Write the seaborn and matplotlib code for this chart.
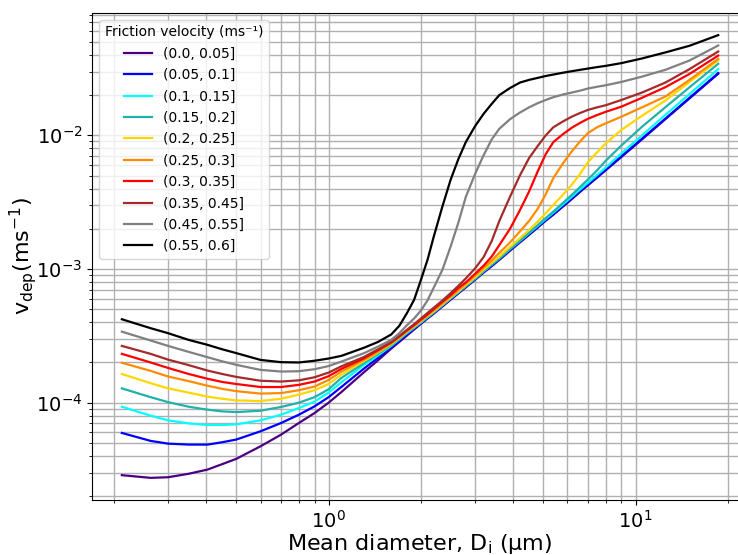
import numpy as np
import pandas as pd
import seaborn as sns
import matplotlib
matplotlib.use("Agg")
import matplotlib.pyplot as plt

# Mean particle diameter (µm)
diameter = [0.212, 0.263, 0.30, 0.35, 0.403, 0.45, 0.50, 0.60, 0.70, 0.80, 0.90, 1.0, 1.1,
            1.3, 1.45, 1.6, 1.7, 1.8, 1.9, 2.0, 2.1, 2.2, 2.35,
            2.5, 2.65, 2.8, 3.0, 3.2, 3.4, 3.6, 3.9, 4.2, 4.5,
            4.8, 5.1, 5.4, 5.8, 6.2, 6.6, 7.0, 7.5, 8.0,
            9.0, 10.5, 12.5, 15.0, 18.6]

# Deposition velocity (m/s) for each friction-velocity bin
vdep_000_005 = [2.87e-5, 2.74e-5, 2.77e-5, 2.94e-5, 3.16e-5, 3.47e-5, 3.80e-5, 4.72e-5, 5.77e-5,
                7.05e-5, 8.37e-5, 1.00e-4, 1.20e-4,
                1.68e-4, 2.08e-4, 2.54e-4, 2.85e-4, 3.18e-4, 3.53e-4, 3.89e-4, 4.26e-4, 4.63e-4, 5.25e-4,
                5.90e-4, 6.58e-4, 7.29e-4, 8.30e-4, 9.40e-4, 1.05e-3, 1.17e-3, 1.37e-3, 1.58e-3, 1.80e-3,
                2.04e-3, 2.30e-3, 2.55e-3, 2.93e-3, 3.33e-3, 3.78e-3, 4.23e-3, 4.83e-3, 5.48e-3,
                6.90e-3, 9.33e-3, 1.32e-2, 1.89e-2, 2.89e-2]
vdep_005_010 = [5.94e-5, 5.18e-5, 4.94e-5, 4.86e-5, 4.86e-5, 5.06e-5, 5.30e-5, 6.11e-5, 7.05e-5,
                8.13e-5, 9.39e-5, 1.10e-4, 1.31e-4,
                1.79e-4, 2.17e-4, 2.61e-4, 2.91e-4, 3.24e-4, 3.58e-4, 3.94e-4, 4.31e-4, 4.69e-4, 5.31e-4,
                5.97e-4, 6.65e-4, 7.38e-4, 8.39e-4, 9.51e-4, 1.06e-3, 1.19e-3, 1.39e-3, 1.60e-3, 1.82e-3,
                2.06e-3, 2.32e-3, 2.58e-3, 2.96e-3, 3.37e-3, 3.82e-3, 4.28e-3, 4.89e-3, 5.55e-3,
                6.98e-3, 9.44e-3, 1.33e-2, 1.91e-2, 2.92e-2]
vdep_010_015 = [9.33e-5, 8.00e-5, 7.38e-5, 7.00e-5, 6.81e-5, 6.81e-5, 6.89e-5, 7.38e-5, 8.13e-5,
                9.12e-5, 1.02e-4, 1.19e-4, 1.42e-4,
                1.91e-4, 2.26e-4, 2.66e-4, 2.98e-4, 3.31e-4, 3.64e-4, 3.98e-4, 4.35e-4, 4.73e-4, 5.36e-4,
                6.03e-4, 6.71e-4, 7.45e-4, 8.47e-4, 9.59e-4, 1.08e-3, 1.20e-3, 1.41e-3, 1.62e-3, 1.85e-3,
                2.10e-3, 2.37e-3, 2.64e-3, 3.04e-3, 3.47e-3, 3.94e-3, 4.42e-3, 5.06e-3, 5.75e-3,
                7.33e-3, 1.00e-2, 1.42e-2, 2.04e-2, 3.13e-2]
vdep_015_020 = [1.28e-4, 1.10e-4, 1.01e-4, 9.33e-5, 8.87e-5, 8.61e-5, 8.51e-5, 8.71e-5, 9.29e-5,
                1.00e-4, 1.10e-4, 1.26e-4, 1.53e-4,
                1.97e-4, 2.32e-4, 2.70e-4, 3.01e-4, 3.35e-4, 3.68e-4, 4.03e-4, 4.39e-4, 4.76e-4, 5.40e-4,
                6.07e-4, 6.76e-4, 7.50e-4, 8.53e-4, 9.66e-4, 1.08e-3, 1.21e-3, 1.42e-3, 1.63e-3, 1.87e-3,
                2.13e-3, 2.41e-3, 2.69e-3, 3.12e-3, 3.59e-3, 4.11e-3, 4.68e-3, 5.48e-3, 6.46e-3,
                8.41e-3, 1.16e-2, 1.62e-2, 2.29e-2, 3.43e-2]
vdep_020_025 = [1.64e-4, 1.40e-4, 1.28e-4, 1.19e-4, 1.11e-4, 1.07e-4, 1.04e-4, 1.03e-4, 1.07e-4,
                1.15e-4, 1.24e-4, 1.38e-4, 1.62e-4,
                2.04e-4, 2.37e-4, 2.74e-4, 3.05e-4, 3.39e-4, 3.72e-4, 4.07e-4, 4.44e-4, 4.81e-4, 5.45e-4,
                6.14e-4, 6.84e-4, 7.59e-4, 8.67e-4, 9.89e-4, 1.11e-3, 1.24e-3, 1.46e-3, 1.70e-3, 1.96e-3,
                2.26e-3, 2.62e-3, 3.02e-3, 3.59e-3, 4.27e-3, 5.15e-3, 6.31e-3, 7.48e-3, 8.71e-3,
                1.10e-2, 1.40e-2, 1.82e-2, 2.51e-2, 3.63e-2]
vdep_025_030 = [1.99e-4, 1.73e-4, 1.57e-4, 1.45e-4, 1.34e-4, 1.27e-4, 1.22e-4, 1.17e-4, 1.18e-4,
                1.24e-4, 1.32e-4, 1.48e-4, 1.71e-4,
                2.09e-4, 2.41e-4, 2.78e-4, 3.10e-4, 3.43e-4, 3.77e-4, 4.12e-4, 4.51e-4, 4.90e-4, 5.55e-4,
                6.24e-4, 6.97e-4, 7.76e-4, 8.93e-4, 1.02e-3, 1.16e-3, 1.32e-3, 1.58e-3, 1.91e-3, 2.29e-3,
                2.82e-3, 3.63e-3, 4.79e-3, 6.17e-3, 7.59e-3, 9.02e-3, 1.04e-2, 1.15e-2, 1.23e-2,
                1.38e-2, 1.62e-2, 1.95e-2, 2.60e-2, 3.73e-2]
vdep_030_035 = [2.32e-4, 2.00e-4, 1.82e-4, 1.64e-4, 1.51e-4, 1.43e-4, 1.38e-4, 1.31e-4, 1.31e-4,
                1.36e-4, 1.44e-4, 1.58e-4, 1.79e-4,
                2.14e-4, 2.47e-4, 2.82e-4, 3.13e-4, 3.47e-4, 3.81e-4, 4.19e-4, 4.57e-4, 5.01e-4, 5.69e-4,
                6.38e-4, 7.23e-4, 7.94e-4, 9.20e-4, 1.06e-3, 1.24e-3, 1.51e-3, 2.00e-3, 2.75e-3, 3.80e-3,
                5.37e-3, 7.24e-3, 8.91e-3, 1.02e-2, 1.14e-2, 1.24e-2, 1.33e-2, 1.42e-2, 1.50e-2,
                1.64e-2, 1.91e-2, 2.29e-2, 2.88e-2, 3.95e-2]
vdep_035_045 = [2.66e-4, 2.32e-4, 2.10e-4, 1.91e-4, 1.74e-4, 1.64e-4, 1.56e-4, 1.46e-4, 1.44e-4,
                1.47e-4, 1.55e-4, 1.68e-4, 1.87e-4,
                2.19e-4, 2.51e-4, 2.85e-4, 3.16e-4, 3.51e-4, 3.87e-4, 4.27e-4, 4.69e-4, 5.13e-4, 5.82e-4,
                6.61e-4, 7.50e-4, 8.51e-4, 1.01e-3, 1.23e-3, 1.62e-3, 2.29e-3, 3.47e-3, 5.01e-3, 6.76e-3,
                8.32e-3, 1.00e-2, 1.15e-2, 1.27e-2, 1.38e-2, 1.47e-2, 1.55e-2, 1.62e-2, 1.68e-2,
                1.84e-2, 2.09e-2, 2.48e-2, 3.13e-2, 4.24e-2]
vdep_045_055 = [3.40e-4, 2.92e-4, 2.66e-4, 2.40e-4, 2.19e-4, 2.04e-4, 1.92e-4, 1.76e-4, 1.71e-4,
                1.72e-4, 1.78e-4, 1.88e-4, 2.03e-4,
                2.34e-4, 2.63e-4, 2.95e-4, 3.31e-4, 3.80e-4, 4.27e-4, 4.90e-4, 5.82e-4, 7.24e-4, 9.89e-4,
                1.48e-3, 2.24e-3, 3.47e-3, 5.13e-3, 7.10e-3, 9.33e-3, 1.12e-2, 1.32e-2, 1.48e-2, 1.62e-2,
                1.74e-2, 1.84e-2, 1.93e-2, 2.02e-2, 2.09e-2, 2.16e-2, 2.24e-2, 2.31e-2, 2.37e-2,
                2.51e-2, 2.75e-2, 3.09e-2, 3.63e-2, 4.70e-2]
vdep_055_060 = [4.21e-4, 3.61e-4, 3.31e-4, 2.95e-4, 2.71e-4, 2.51e-4, 2.35e-4, 2.09e-4, 2.01e-4,
                2.00e-4, 2.06e-4, 2.14e-4, 2.24e-4,
                2.57e-4, 2.85e-4, 3.24e-4, 3.76e-4, 4.68e-4, 5.89e-4, 8.32e-4, 1.17e-3, 1.74e-3, 2.95e-3,
                4.68e-3, 6.68e-3, 8.91e-3, 1.17e-2, 1.45e-2, 1.72e-2, 2.00e-2, 2.26e-2, 2.48e-2, 2.60e-2,
                2.69e-2, 2.78e-2, 2.85e-2, 2.94e-2, 3.02e-2, 3.09e-2, 3.16e-2, 3.24e-2, 3.31e-2,
                3.47e-2, 3.76e-2, 4.17e-2, 4.68e-2, 5.62e-2]

bin_labels = ["(0.0, 0.05]", "(0.05, 0.1]", "(0.1, 0.15]", "(0.15, 0.2]", "(0.2, 0.25]",
              "(0.25, 0.3]", "(0.3, 0.35]", "(0.35, 0.45]", "(0.45, 0.55]", "(0.55, 0.6]"]
bin_series = [vdep_000_005, vdep_005_010, vdep_010_015, vdep_015_020, vdep_020_025,
              vdep_025_030, vdep_030_035, vdep_035_045, vdep_045_055, vdep_055_060]
line_colors = ["indigo", "blue", "cyan", "lightseagreen", "gold",
               "darkorange", "red", "brown", "grey", "black"]

frames = [pd.DataFrame({"diameter": diameter, "vdep": vals, "ustar": lab})
          for lab, vals in zip(bin_labels, bin_series)]
df = pd.concat(frames, ignore_index=True)

fig = plt.figure(figsize=(7.38, 5.55), dpi=100)
ax = fig.add_axes([0.1247, 0.0991, 0.8889, 0.8775])

sns.lineplot(data=df, x="diameter", y="vdep", hue="ustar", hue_order=bin_labels,
             palette=dict(zip(bin_labels, line_colors)), estimator=None,
             linewidth=1.6, ax=ax)

ax.set_xscale("log")
ax.set_yscale("log")
ax.grid(True, which="both", color="#b0b0b0", linewidth=1.0)
ax.set_axisbelow(True)

ax.tick_params(axis="both", which="major", labelsize=14)
ax.set_xlabel(r"Mean diameter, D$_\mathrm{i}$ ($\mathrm{\mu}$m)", fontsize=16, labelpad=0)
ax.set_ylabel(r"v$_\mathrm{dep}$(ms$^{-1}$)", fontsize=16, labelpad=-2)

leg = ax.legend(title="Friction velocity (ms⁻¹)", loc="upper left",
                fontsize=10, title_fontsize=10, labelspacing=0.53)

fig.savefig("out.png", dpi=100)
